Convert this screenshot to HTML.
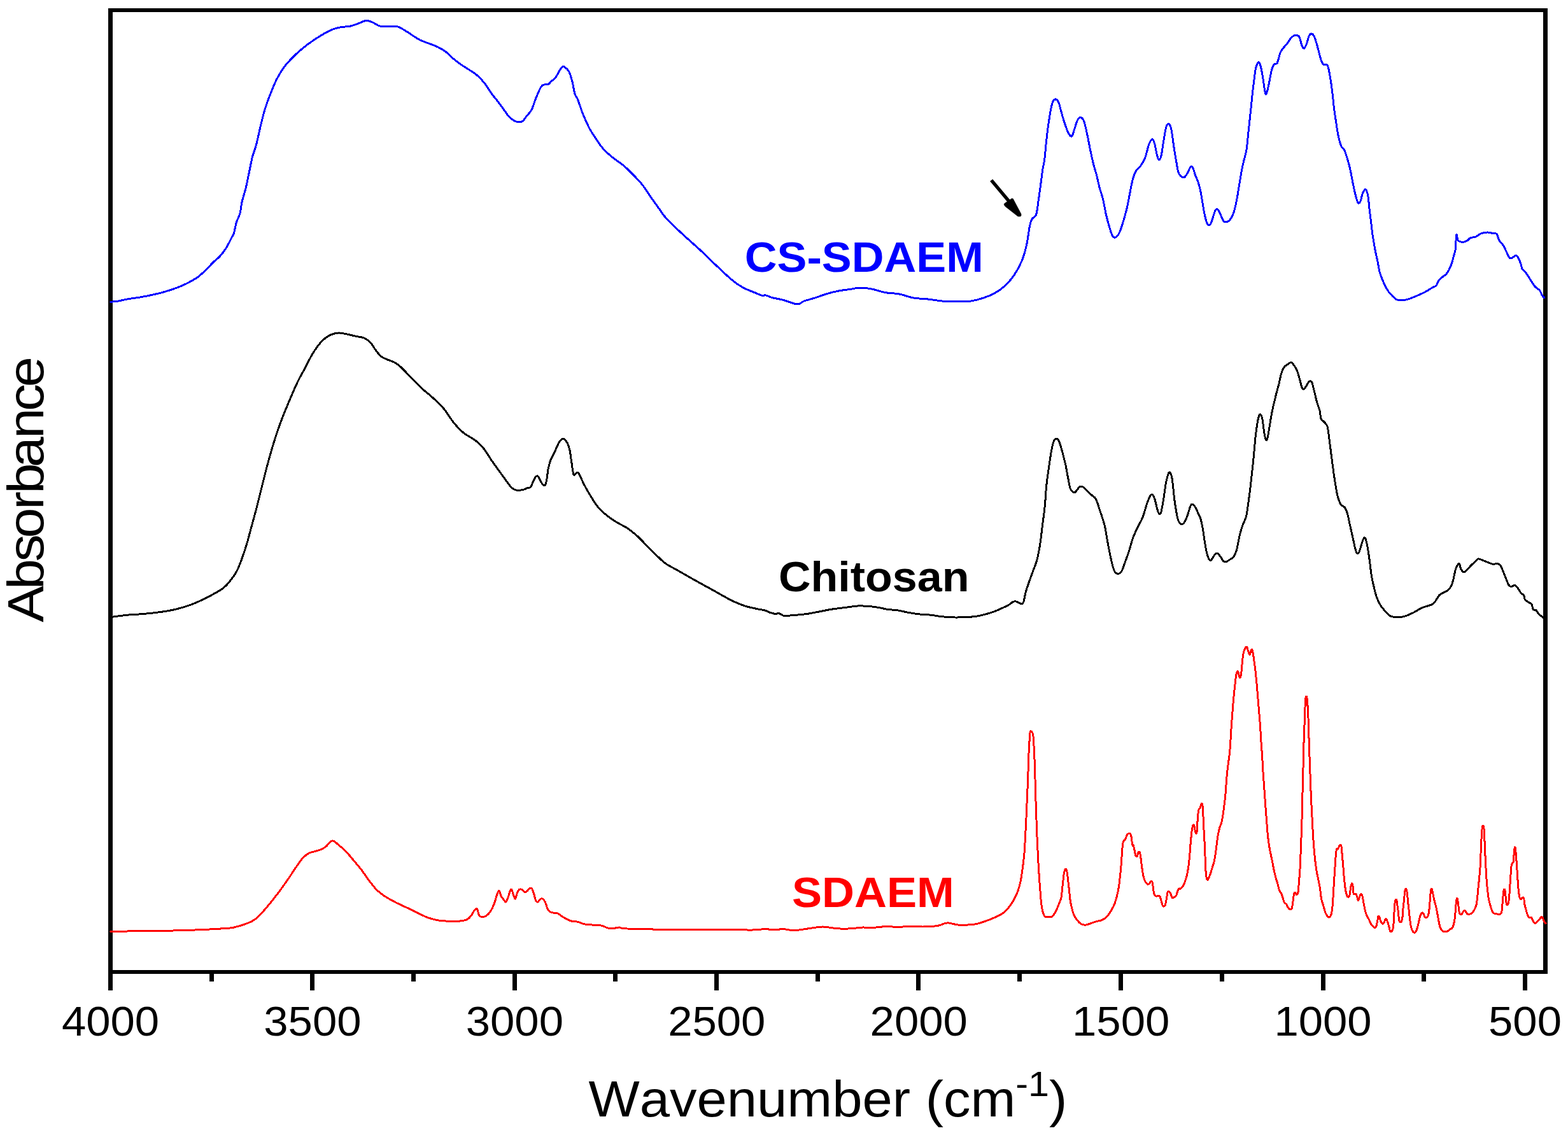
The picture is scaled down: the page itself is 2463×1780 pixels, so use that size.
<!DOCTYPE html>
<html lang="en">
<head>
<meta charset="utf-8">
<title>FTIR spectra: CS-SDAEM, Chitosan, SDAEM</title>
<style>
html,body{margin:0;padding:0;background:#fff;}
body{width:2463px;height:1780px;overflow:hidden;}
svg{display:block;}
text{font-family:"Liberation Sans",Arial,Helvetica,sans-serif;font-kerning:none;}
.b{font-weight:bold;}
.c{fill:none;stroke-linejoin:round;stroke-linecap:round;}
</style>
</head>
<body>
<svg width="2463" height="1780" viewBox="0 0 2463 1780">
<rect x="0" y="0" width="2463" height="1780" fill="#fff"/>
<g fill="#000" shape-rendering="crispEdges">
<rect x="170" y="13" width="7" height="1543"/>
<rect x="2424" y="13" width="7" height="1517"/>
<rect x="170" y="13" width="2261" height="6"/>
<rect x="170" y="1524" width="2261" height="6"/>
<rect x="487" y="1529" width="7" height="27"/>
<rect x="805" y="1529" width="7" height="27"/>
<rect x="1122" y="1529" width="7" height="27"/>
<rect x="1439" y="1529" width="7" height="27"/>
<rect x="1757" y="1529" width="7" height="27"/>
<rect x="2075" y="1529" width="7" height="27"/>
<rect x="2392" y="1529" width="7" height="27"/>
<rect x="329" y="1529" width="7" height="13"/>
<rect x="646" y="1529" width="7" height="13"/>
<rect x="963" y="1529" width="7" height="13"/>
<rect x="1281" y="1529" width="7" height="13"/>
<rect x="1598" y="1529" width="7" height="13"/>
<rect x="1916" y="1529" width="7" height="13"/>
<rect x="2233" y="1529" width="7" height="13"/>
</g>
<g class="c" shape-rendering="crispEdges" stroke-width="3.0">
<path stroke="#0000ff" d="M173.8,474.2C175.6,474.1 180.6,474.0 185.0,473.2C189.4,472.5 194.2,471.0 200.0,470.0C205.8,469.0 212.9,468.2 220.0,467.0C227.1,465.8 235.8,464.0 242.5,462.5C249.2,461.0 253.8,459.9 260.0,458.0C266.2,456.1 274.2,453.5 280.0,451.2C285.8,449.0 290.0,447.1 295.0,444.5C300.0,441.9 305.4,439.0 310.0,435.8C314.6,432.5 318.3,429.0 322.5,425.0C326.7,421.0 331.2,415.7 335.0,412.0C338.8,408.3 341.7,406.7 345.0,403.0C348.3,399.3 351.7,395.3 355.0,390.0C358.3,384.7 362.9,375.2 365.0,371.2C367.1,367.3 366.5,369.8 367.5,366.2C368.5,362.7 369.7,355.2 371.2,350.0C372.8,344.8 375.5,340.4 377.0,335.0C378.5,329.6 378.5,324.2 380.0,317.5C381.5,310.8 384.5,302.1 386.2,295.0C388.0,287.9 388.8,282.9 390.5,275.0C392.2,267.1 394.2,255.4 396.2,247.5C398.2,239.6 400.2,236.2 402.5,227.5C404.8,218.8 407.7,204.4 410.0,195.0C412.3,185.6 414.0,178.8 416.2,171.2C418.5,163.8 420.6,157.9 423.8,150.0C426.9,142.1 431.0,131.5 435.0,123.8C439.0,116.0 442.9,109.8 447.5,103.8C452.1,97.7 457.5,92.4 462.5,87.5C467.5,82.6 472.9,78.0 477.5,74.2C482.1,70.5 485.0,68.4 490.0,65.0C495.0,61.6 502.1,56.9 507.5,53.8C512.9,50.6 517.7,48.1 522.5,46.2C527.3,44.4 531.7,43.3 536.2,42.5C540.8,41.7 545.6,42.2 550.0,41.2C554.4,40.3 558.3,38.5 562.5,37.0C566.7,35.5 571.2,32.8 575.0,32.5C578.8,32.2 581.7,33.7 585.0,35.0C588.3,36.3 591.9,39.3 595.0,40.5C598.1,41.7 600.8,41.9 603.8,42.0C606.7,42.1 609.0,41.2 612.5,41.2C616.0,41.2 620.8,40.8 625.0,42.0C629.2,43.2 633.3,46.2 637.5,48.8C641.7,51.2 646.2,54.6 650.0,57.0C653.8,59.4 655.8,61.0 660.0,63.0C664.2,65.0 670.4,67.0 675.0,68.8C679.6,70.5 683.3,71.7 687.5,73.8C691.7,75.8 695.8,78.1 700.0,81.2C704.2,84.4 708.3,89.0 712.5,92.5C716.7,96.0 720.8,99.1 725.0,102.0C729.2,104.9 733.3,107.2 737.5,110.0C741.7,112.8 745.8,115.0 750.0,118.8C754.2,122.5 758.8,127.7 762.5,132.5C766.2,137.3 769.2,142.9 772.5,147.5C775.8,152.1 779.2,155.6 782.5,160.0C785.8,164.4 789.6,169.8 792.5,173.8C795.4,177.7 797.5,181.1 800.0,183.8C802.5,186.4 805.0,188.1 807.5,189.5C810.0,190.9 812.7,191.9 815.0,192.0C817.3,192.1 819.2,191.7 821.2,190.0C823.3,188.3 825.2,184.9 827.5,182.0C829.8,179.1 832.5,177.4 835.0,172.5C837.5,167.6 840.0,158.5 842.5,152.5C845.0,146.5 847.9,139.5 850.0,136.2C852.1,133.0 853.1,133.6 855.0,133.0C856.9,132.4 859.4,133.4 861.2,132.5C863.1,131.6 864.4,129.2 866.2,127.5C868.1,125.8 870.4,124.7 872.5,122.0C874.6,119.3 876.9,114.1 878.8,111.2C880.6,108.4 882.3,105.9 883.8,105.0C885.2,104.1 885.8,104.5 887.5,105.8C889.2,107.0 891.9,108.9 893.8,112.5C895.6,116.1 897.2,121.7 898.8,127.5C900.3,133.3 901.5,142.7 903.0,147.5C904.5,152.3 905.5,151.2 907.5,156.2C909.5,161.2 912.1,170.2 915.0,177.5C917.9,184.8 921.7,193.5 925.0,200.0C928.3,206.5 931.2,210.6 935.0,216.2C938.8,221.9 942.9,228.5 947.5,233.8C952.1,239.0 957.1,243.0 962.5,247.5C967.9,252.0 974.6,255.9 980.0,260.5C985.4,265.1 990.2,270.1 995.0,275.0C999.8,279.9 1004.2,284.2 1008.8,290.0C1013.3,295.8 1018.1,303.8 1022.5,310.0C1026.9,316.2 1031.2,322.3 1035.0,327.5C1038.8,332.7 1040.4,336.0 1045.0,341.2C1049.6,346.5 1056.7,353.1 1062.5,358.8C1068.3,364.4 1073.8,369.3 1080.0,375.0C1086.2,380.7 1092.5,386.0 1100.0,393.0C1107.5,400.0 1116.7,409.2 1125.0,417.0C1133.3,424.8 1142.9,434.2 1150.0,440.0C1157.1,445.8 1161.7,448.8 1167.5,452.0C1173.3,455.2 1180.0,457.4 1185.0,459.5C1190.0,461.6 1194.6,463.8 1197.5,464.5C1200.4,465.2 1200.0,463.2 1202.5,463.8C1205.0,464.2 1207.9,466.2 1212.5,467.5C1217.1,468.8 1223.3,469.5 1230.0,471.2C1236.7,473.0 1247.1,477.7 1252.5,478.0C1257.9,478.3 1257.9,474.9 1262.5,473.2C1267.1,471.6 1273.8,470.0 1280.0,468.0C1286.2,466.0 1293.8,463.1 1300.0,461.2C1306.2,459.4 1311.7,458.1 1317.5,457.0C1323.3,455.9 1329.4,455.3 1335.0,454.5C1340.6,453.7 1345.4,452.0 1351.2,452.0C1357.1,452.0 1363.5,453.0 1370.0,454.2C1376.5,455.5 1382.9,458.2 1390.0,459.5C1397.1,460.8 1405.0,460.6 1412.5,462.0C1420.0,463.4 1427.5,466.7 1435.0,468.0C1442.5,469.3 1450.0,469.2 1457.5,470.0C1465.0,470.8 1472.1,472.3 1480.0,473.0C1487.9,473.7 1497.5,474.0 1505.0,474.0C1512.5,474.0 1518.3,474.0 1525.0,473.0C1531.7,472.0 1538.8,470.1 1545.0,468.0C1551.2,465.9 1557.1,463.5 1562.5,460.5C1567.9,457.5 1572.5,454.6 1577.5,450.0C1582.5,445.4 1587.9,439.7 1592.5,433.0C1597.1,426.3 1601.7,418.0 1605.0,410.0C1608.3,402.0 1610.4,394.2 1612.5,385.0C1614.6,375.8 1616.0,361.9 1617.5,355.0C1619.0,348.1 1619.6,346.7 1621.2,343.8C1622.9,340.8 1625.8,342.3 1627.5,337.5C1629.2,332.7 1630.0,323.3 1631.2,315.0C1632.5,306.7 1633.9,295.8 1635.0,287.5C1636.1,279.2 1637.0,271.2 1638.0,265.0C1639.0,258.8 1639.8,257.5 1640.8,250.0C1641.7,242.5 1642.8,228.3 1643.8,220.0C1644.7,211.7 1645.2,207.5 1646.2,200.0C1647.3,192.5 1648.8,181.7 1650.0,175.0C1651.2,168.3 1652.4,163.2 1653.8,160.0C1655.1,156.8 1656.5,155.8 1658.0,155.8C1659.5,155.8 1661.1,157.2 1662.5,160.0C1663.9,162.8 1665.0,168.1 1666.2,172.5C1667.5,176.9 1668.5,181.5 1670.0,186.2C1671.5,191.0 1673.4,197.1 1675.0,201.2C1676.6,205.4 1678.0,209.2 1679.5,211.2C1681.0,213.3 1682.4,215.0 1683.8,213.8C1685.1,212.5 1686.0,207.9 1687.5,203.8C1689.0,199.6 1690.8,192.0 1692.5,188.8C1694.2,185.5 1695.8,184.3 1697.5,184.5C1699.2,184.7 1700.8,185.8 1702.5,190.0C1704.2,194.2 1705.8,202.5 1707.5,210.0C1709.2,217.5 1710.8,227.1 1712.5,235.0C1714.2,242.9 1715.8,250.8 1717.5,257.5C1719.2,264.2 1720.8,268.5 1722.5,275.0C1724.2,281.5 1725.8,290.0 1727.5,296.2C1729.2,302.5 1730.8,305.6 1732.5,312.5C1734.2,319.4 1735.8,330.2 1737.5,337.5C1739.2,344.8 1740.9,350.9 1742.5,356.2C1744.1,361.6 1745.5,366.7 1747.0,369.5C1748.5,372.3 1749.9,373.8 1751.8,373.2C1753.6,372.7 1756.0,370.1 1758.0,366.2C1760.0,362.4 1761.8,356.5 1763.8,350.0C1765.8,343.5 1768.1,335.4 1770.0,327.5C1771.9,319.6 1773.4,310.2 1775.0,302.5C1776.6,294.8 1777.8,287.1 1779.5,281.2C1781.2,275.4 1783.0,270.8 1785.0,267.5C1787.0,264.2 1789.0,264.6 1791.2,261.2C1793.5,257.9 1796.5,253.3 1798.8,247.5C1801.0,241.7 1803.1,231.0 1805.0,226.2C1806.9,221.5 1808.5,218.8 1810.0,218.8C1811.5,218.8 1812.5,222.1 1813.8,226.2C1815.0,230.4 1816.3,239.6 1817.5,243.8C1818.7,247.9 1819.6,251.2 1820.8,251.2C1821.9,251.2 1823.0,249.0 1824.2,243.8C1825.5,238.5 1826.7,227.5 1828.0,220.0C1829.3,212.5 1830.6,202.9 1832.0,198.8C1833.4,194.6 1834.9,194.2 1836.2,195.0C1837.6,195.8 1838.8,197.9 1840.0,203.8C1841.2,209.6 1842.5,221.9 1843.8,230.0C1845.0,238.1 1846.3,245.8 1847.5,252.5C1848.7,259.2 1849.5,265.9 1850.8,270.0C1852.0,274.1 1853.5,275.5 1855.0,277.0C1856.5,278.5 1858.3,279.5 1860.0,278.8C1861.7,278.0 1863.3,275.2 1865.0,272.5C1866.7,269.8 1868.5,264.0 1870.0,262.5C1871.5,261.0 1872.5,261.7 1873.8,263.8C1875.0,265.8 1876.0,271.0 1877.5,275.0C1879.0,279.0 1881.0,282.9 1882.5,287.5C1884.0,292.1 1885.0,296.2 1886.2,302.5C1887.5,308.8 1888.8,318.1 1890.0,325.0C1891.2,331.9 1892.5,339.1 1893.8,343.8C1895.0,348.4 1896.2,351.5 1897.5,353.0C1898.8,354.5 1900.0,354.2 1901.2,352.5C1902.5,350.8 1903.8,346.0 1905.0,342.5C1906.2,339.0 1907.5,333.5 1908.8,331.2C1910.0,329.0 1911.2,328.1 1912.5,328.8C1913.8,329.4 1914.8,332.1 1916.2,335.0C1917.7,337.9 1919.8,344.0 1921.2,346.2C1922.7,348.5 1923.3,348.8 1925.0,348.8C1926.7,348.8 1929.2,348.5 1931.2,346.2C1933.3,344.0 1935.6,340.2 1937.5,335.0C1939.4,329.8 1941.0,322.1 1942.5,315.0C1944.0,307.9 1945.0,300.0 1946.2,292.5C1947.5,285.0 1948.8,276.7 1950.0,270.0C1951.2,263.3 1952.4,258.3 1953.8,252.5C1955.1,246.7 1956.8,242.9 1958.0,235.0C1959.2,227.1 1960.2,215.0 1961.2,205.0C1962.3,195.0 1963.5,184.2 1964.5,175.0C1965.5,165.8 1966.1,158.3 1967.0,150.0C1967.9,141.7 1969.1,132.1 1970.0,125.0C1970.9,117.9 1971.7,111.7 1972.5,107.5C1973.3,103.3 1974.2,101.5 1975.0,100.0C1975.8,98.5 1976.6,97.4 1977.5,98.2C1978.4,99.1 1979.5,101.0 1980.5,105.0C1981.5,109.0 1982.7,116.2 1983.8,122.5C1984.8,128.8 1985.8,138.3 1986.8,142.5C1987.7,146.7 1988.2,149.2 1989.2,147.5C1990.3,145.8 1991.6,138.8 1993.0,132.5C1994.4,126.2 1996.1,115.2 1997.5,110.0C1998.9,104.8 1999.8,103.1 2001.2,101.2C2002.7,99.4 2004.6,101.9 2006.2,98.8C2007.9,95.6 2009.6,86.5 2011.2,82.5C2012.9,78.5 2014.4,77.5 2016.2,75.0C2018.1,72.5 2020.4,70.2 2022.5,67.5C2024.6,64.8 2026.5,60.8 2028.8,58.8C2031.0,56.7 2034.2,55.0 2036.2,55.0C2038.3,55.0 2039.9,56.2 2041.2,58.8C2042.6,61.2 2043.3,67.1 2044.5,70.0C2045.7,72.9 2046.9,76.5 2048.2,76.2C2049.6,76.0 2051.2,71.9 2052.5,68.8C2053.8,65.6 2054.6,60.1 2055.8,57.5C2056.9,54.9 2058.2,53.2 2059.5,53.0C2060.8,52.8 2062.4,54.0 2063.8,56.2C2065.1,58.5 2066.2,62.3 2067.5,66.2C2068.8,70.2 2070.0,75.4 2071.2,80.0C2072.5,84.6 2073.8,90.2 2075.0,93.8C2076.2,97.3 2077.1,99.8 2078.8,101.2C2080.4,102.7 2083.3,99.8 2085.0,102.5C2086.7,105.2 2087.5,110.8 2088.8,117.5C2090.0,124.2 2091.4,133.8 2092.5,142.5C2093.6,151.2 2094.5,161.7 2095.5,170.0C2096.5,178.3 2097.6,185.0 2098.8,192.5C2099.9,200.0 2101.1,208.8 2102.5,215.0C2103.9,221.2 2105.5,226.7 2107.0,230.0C2108.5,233.3 2109.7,231.9 2111.2,235.0C2112.8,238.1 2114.6,243.3 2116.2,248.8C2117.9,254.2 2119.8,261.0 2121.2,267.5C2122.7,274.0 2123.6,280.8 2125.0,287.5C2126.4,294.2 2128.1,302.3 2129.5,307.5C2130.9,312.7 2132.0,317.3 2133.2,318.8C2134.5,320.2 2135.9,318.5 2137.0,316.2C2138.1,314.0 2138.7,308.1 2140.0,305.0C2141.3,301.9 2143.5,297.1 2145.0,297.5C2146.5,297.9 2147.7,302.1 2148.8,307.5C2149.8,312.9 2150.4,322.9 2151.2,330.0C2152.1,337.1 2152.9,343.3 2153.8,350.0C2154.6,356.7 2155.2,362.9 2156.2,370.0C2157.3,377.1 2158.8,385.9 2160.0,392.5C2161.2,399.1 2162.5,403.9 2163.8,409.8C2165.0,415.6 2165.8,422.2 2167.2,427.5C2168.7,432.8 2170.2,436.5 2172.2,441.2C2174.3,446.0 2177.5,452.5 2179.8,456.2C2182.0,460.0 2183.7,461.4 2186.0,463.8C2188.3,466.1 2190.6,469.2 2193.5,470.5C2196.4,471.8 2200.2,471.9 2203.5,471.8C2206.8,471.6 2209.8,470.7 2213.5,469.5C2217.2,468.3 2221.8,466.3 2226.0,464.5C2230.2,462.7 2234.3,461.0 2238.5,458.8C2242.7,456.5 2248.1,452.9 2251.0,451.2C2253.9,449.6 2254.5,450.4 2256.0,448.8C2257.5,447.1 2258.1,443.5 2259.8,441.2C2261.4,439.0 2263.9,436.9 2266.0,435.0C2268.1,433.1 2270.2,432.7 2272.2,430.0C2274.3,427.3 2276.6,423.3 2278.5,418.8C2280.4,414.2 2282.2,407.3 2283.5,402.5C2284.8,397.7 2285.9,395.0 2286.5,390.0C2287.1,385.0 2286.9,376.0 2287.2,372.5C2287.6,369.0 2288.1,367.9 2288.5,368.8C2288.9,369.6 2288.9,375.7 2289.8,377.5C2290.6,379.3 2292.0,379.0 2293.5,379.5C2295.0,380.0 2296.6,380.8 2298.5,380.5C2300.4,380.2 2302.9,379.1 2304.8,378.0C2306.6,376.9 2307.5,374.8 2309.8,373.8C2312.0,372.7 2315.8,372.9 2318.5,371.8C2321.2,370.6 2323.1,368.1 2326.0,367.0C2328.9,365.9 2333.1,365.1 2336.0,365.0C2338.9,364.9 2341.0,365.8 2343.5,366.2C2346.0,366.7 2349.1,365.6 2351.0,367.5C2352.9,369.4 2353.1,374.6 2354.8,377.5C2356.4,380.4 2359.1,382.1 2361.0,385.0C2362.9,387.9 2364.3,391.7 2366.0,395.0C2367.7,398.3 2369.5,403.2 2371.0,405.0C2372.5,406.8 2373.1,406.1 2374.8,405.5C2376.4,404.9 2379.3,401.3 2381.0,401.2C2382.7,401.2 2383.4,402.7 2384.8,405.0C2386.1,407.3 2388.0,412.1 2389.0,415.0C2390.0,417.9 2389.8,420.4 2391.0,422.5C2392.2,424.6 2393.9,424.8 2396.0,427.5C2398.1,430.2 2401.0,435.0 2403.5,438.8C2406.0,442.5 2408.5,447.1 2411.0,450.0C2413.5,452.9 2416.6,454.0 2418.5,456.2C2420.4,458.5 2421.1,461.9 2422.2,463.8C2423.4,465.6 2425.0,466.9 2425.5,467.5"/>
<path stroke="#000000" d="M173.8,969.5C178.1,969.0 191.5,967.1 200.0,966.2C208.5,965.4 216.7,965.2 225.0,964.5C233.3,963.8 241.7,962.9 250.0,961.8C258.3,960.6 266.7,959.5 275.0,957.5C283.3,955.5 291.7,953.1 300.0,950.0C308.3,946.9 316.7,943.0 325.0,938.8C333.3,934.5 343.8,929.1 350.0,924.5C356.2,919.9 358.8,916.0 362.5,911.2C366.2,906.5 369.6,901.9 372.5,896.2C375.4,890.6 377.5,884.4 380.0,877.5C382.5,870.6 385.0,863.3 387.5,855.0C390.0,846.7 392.5,836.7 395.0,827.5C397.5,818.3 400.0,809.6 402.5,800.0C405.0,790.4 407.5,780.0 410.0,770.0C412.5,760.0 415.0,749.6 417.5,740.0C420.0,730.4 422.1,722.5 425.0,712.5C427.9,702.5 431.7,690.0 435.0,680.0C438.3,670.0 441.2,662.1 445.0,652.5C448.8,642.9 453.8,631.2 457.5,622.5C461.2,613.8 464.2,606.9 467.5,600.0C470.8,593.1 473.8,588.3 477.5,581.2C481.2,574.2 486.2,564.0 490.0,557.5C493.8,551.0 496.7,546.8 500.0,542.5C503.3,538.2 506.7,534.8 510.0,532.0C513.3,529.2 516.2,527.2 520.0,525.8C523.8,524.2 528.3,523.1 532.5,523.0C536.7,522.9 540.4,524.1 545.0,525.0C549.6,525.9 555.4,527.5 560.0,528.5C564.6,529.5 568.8,529.5 572.5,531.2C576.2,533.0 579.6,535.6 582.5,538.8C585.4,541.9 587.3,546.5 590.0,550.0C592.7,553.5 595.8,557.6 598.8,560.0C601.7,562.4 604.0,562.9 607.5,564.5C611.0,566.1 616.2,567.4 620.0,569.5C623.8,571.6 625.8,573.2 630.0,577.0C634.2,580.8 639.6,587.0 645.0,592.5C650.4,598.0 656.7,604.6 662.5,610.0C668.3,615.4 674.2,619.6 680.0,625.0C685.8,630.4 692.1,636.0 697.5,642.5C702.9,649.0 707.5,657.6 712.5,663.8C717.5,669.9 721.7,674.7 727.5,679.5C733.3,684.3 742.1,688.2 747.5,692.5C752.9,696.8 755.8,699.8 760.0,705.0C764.2,710.2 768.3,717.7 772.5,723.8C776.7,729.8 781.2,736.0 785.0,741.2C788.8,746.5 791.9,750.8 795.0,755.0C798.1,759.2 801.0,763.8 803.8,766.2C806.5,768.8 808.3,769.5 811.2,770.0C814.2,770.5 818.5,770.0 821.2,769.5C824.0,769.0 825.4,767.8 827.5,767.0C829.6,766.2 832.1,766.8 833.8,765.0C835.4,763.2 836.2,758.8 837.5,756.2C838.8,753.7 840.0,750.9 841.2,749.5C842.5,748.1 843.8,747.1 845.0,748.0C846.2,748.9 847.5,752.8 848.8,755.0C850.0,757.2 851.2,760.1 852.5,761.2C853.8,762.4 855.2,763.2 856.2,762.0C857.3,760.8 857.9,758.0 858.8,753.8C859.6,749.5 860.2,741.5 861.2,736.2C862.3,731.0 863.3,726.9 865.0,722.5C866.7,718.1 869.2,714.4 871.2,710.0C873.3,705.6 875.6,699.6 877.5,696.2C879.4,692.9 881.0,691.1 882.5,690.0C884.0,688.9 884.8,688.5 886.2,689.5C887.7,690.5 889.8,693.2 891.2,696.2C892.7,699.2 893.9,702.3 895.0,707.5C896.1,712.7 897.0,721.2 898.0,727.5C899.0,733.8 899.8,742.1 900.8,745.0C901.7,747.9 902.7,745.5 903.8,745.0C904.8,744.5 905.9,741.8 907.0,742.0C908.1,742.2 908.8,743.0 910.5,746.2C912.2,749.5 914.7,755.8 917.5,761.2C920.3,766.7 923.8,772.7 927.5,778.8C931.2,784.8 935.4,792.1 940.0,797.5C944.6,802.9 950.0,807.3 955.0,811.2C960.0,815.2 965.0,818.2 970.0,821.2C975.0,824.3 980.0,826.2 985.0,829.5C990.0,832.8 995.0,836.8 1000.0,841.2C1005.0,845.7 1010.0,851.2 1015.0,856.2C1020.0,861.2 1025.0,866.5 1030.0,871.2C1035.0,876.0 1039.6,881.0 1045.0,885.0C1050.4,889.0 1056.7,891.7 1062.5,895.0C1068.3,898.3 1073.8,901.5 1080.0,905.0C1086.2,908.5 1092.5,912.1 1100.0,916.2C1107.5,920.4 1116.7,925.4 1125.0,930.0C1133.3,934.6 1142.5,940.1 1150.0,943.8C1157.5,947.4 1163.8,949.9 1170.0,952.0C1176.2,954.1 1182.1,955.0 1187.5,956.2C1192.9,957.5 1198.8,958.2 1202.5,959.2C1206.2,960.3 1207.3,961.6 1210.0,962.5C1212.7,963.4 1216.7,964.4 1218.8,964.5C1220.8,964.6 1221.0,963.1 1222.5,963.2C1224.0,963.4 1225.8,964.8 1227.5,965.5C1229.2,966.2 1228.8,967.4 1232.5,967.5C1236.2,967.6 1244.2,966.8 1250.0,966.2C1255.8,965.8 1261.2,965.4 1267.5,964.5C1273.8,963.6 1280.8,962.0 1287.5,960.8C1294.2,959.5 1300.8,958.0 1307.5,957.0C1314.2,956.0 1320.8,955.3 1327.5,954.5C1334.2,953.7 1341.2,952.3 1347.5,952.0C1353.8,951.7 1359.6,952.1 1365.0,952.5C1370.4,952.9 1375.0,953.7 1380.0,954.5C1385.0,955.3 1390.0,956.8 1395.0,957.5C1400.0,958.2 1404.6,957.9 1410.0,958.8C1415.4,959.6 1421.7,961.5 1427.5,962.5C1433.3,963.5 1439.2,964.4 1445.0,965.0C1450.8,965.6 1456.7,965.6 1462.5,966.2C1468.3,966.9 1473.8,968.1 1480.0,968.8C1486.2,969.4 1493.3,969.9 1500.0,970.0C1506.7,970.1 1514.2,969.8 1520.0,969.5C1525.8,969.2 1530.0,968.8 1535.0,968.0C1540.0,967.2 1545.4,965.8 1550.0,964.5C1554.6,963.2 1558.3,962.1 1562.5,960.5C1566.7,958.9 1571.2,956.8 1575.0,955.0C1578.8,953.2 1582.3,951.6 1585.0,950.0C1587.7,948.4 1589.4,946.3 1591.2,945.5C1593.1,944.7 1594.6,944.7 1596.2,945.0C1597.9,945.3 1599.8,946.9 1601.2,947.5C1602.7,948.1 1603.9,949.2 1605.0,948.8C1606.1,948.3 1607.0,948.1 1608.0,945.0C1609.0,941.9 1609.9,935.0 1611.2,930.0C1612.6,925.0 1614.4,920.4 1616.2,915.0C1618.1,909.6 1620.4,903.3 1622.5,897.5C1624.6,891.7 1626.9,887.1 1628.8,880.0C1630.6,872.9 1632.3,864.2 1633.8,855.0C1635.2,845.8 1636.2,835.0 1637.5,825.0C1638.8,815.0 1640.2,805.4 1641.2,795.0C1642.3,784.6 1642.7,772.5 1643.8,762.5C1644.8,752.5 1646.2,743.8 1647.5,735.0C1648.8,726.2 1650.0,716.9 1651.2,710.0C1652.5,703.1 1653.8,697.2 1655.0,693.8C1656.2,690.3 1657.5,689.9 1658.8,689.5C1660.0,689.1 1661.2,689.3 1662.5,691.2C1663.8,693.2 1665.0,697.3 1666.2,701.2C1667.5,705.2 1668.8,710.2 1670.0,715.0C1671.2,719.8 1672.5,724.2 1673.8,730.0C1675.0,735.8 1676.2,743.8 1677.5,750.0C1678.8,756.2 1680.0,763.8 1681.2,767.5C1682.5,771.2 1683.8,771.5 1685.0,772.5C1686.2,773.5 1687.5,773.9 1688.8,773.2C1690.0,772.6 1691.2,770.2 1692.5,768.8C1693.8,767.3 1694.8,765.1 1696.2,764.5C1697.7,763.9 1699.4,763.9 1701.2,765.0C1703.1,766.1 1705.2,769.1 1707.5,771.2C1709.8,773.4 1712.7,775.9 1715.0,778.0C1717.3,780.1 1719.4,780.5 1721.2,783.8C1723.1,787.0 1724.0,790.6 1726.2,797.5C1728.5,804.4 1732.7,815.8 1735.0,825.0C1737.3,834.2 1738.3,843.8 1740.0,852.5C1741.7,861.2 1743.5,870.8 1745.0,877.5C1746.5,884.2 1747.5,888.8 1748.8,892.5C1750.0,896.2 1750.8,898.6 1752.5,900.0C1754.2,901.4 1757.1,901.4 1758.8,900.8C1760.4,900.1 1761.0,899.3 1762.5,896.2C1764.0,893.2 1765.6,887.7 1767.5,882.5C1769.4,877.3 1771.9,870.8 1773.8,865.0C1775.6,859.2 1776.7,853.3 1778.8,847.5C1780.8,841.7 1783.5,835.8 1786.2,830.0C1789.0,824.2 1792.5,818.8 1795.0,812.5C1797.5,806.2 1799.4,797.9 1801.2,792.5C1803.1,787.1 1804.8,782.6 1806.2,780.0C1807.7,777.4 1808.8,776.4 1810.0,777.0C1811.2,777.6 1812.5,780.1 1813.8,783.8C1815.0,787.4 1816.4,794.9 1817.5,798.8C1818.6,802.6 1819.5,806.0 1820.5,807.0C1821.5,808.0 1822.6,808.7 1823.8,805.0C1824.9,801.3 1826.2,792.5 1827.5,785.0C1828.8,777.5 1830.0,766.7 1831.2,760.0C1832.5,753.3 1833.9,747.9 1835.0,745.0C1836.1,742.1 1837.0,741.2 1838.0,742.5C1839.0,743.8 1840.2,745.8 1841.2,752.5C1842.3,759.2 1843.5,774.2 1844.5,782.5C1845.5,790.8 1846.6,797.1 1847.5,802.5C1848.4,807.9 1849.0,811.7 1850.0,815.0C1851.0,818.3 1852.3,821.2 1853.8,822.5C1855.2,823.8 1857.1,824.0 1858.8,822.5C1860.4,821.0 1862.3,817.1 1863.8,813.8C1865.2,810.4 1866.4,805.8 1867.5,802.5C1868.6,799.2 1869.5,795.4 1870.5,793.8C1871.5,792.1 1872.4,791.7 1873.8,792.5C1875.1,793.3 1877.3,796.2 1878.8,798.8C1880.2,801.2 1881.2,804.6 1882.5,807.5C1883.8,810.4 1885.0,811.7 1886.2,816.2C1887.5,820.8 1888.8,827.7 1890.0,835.0C1891.2,842.3 1892.5,853.3 1893.8,860.0C1895.0,866.7 1896.2,871.6 1897.5,875.0C1898.8,878.4 1900.0,880.3 1901.2,880.5C1902.5,880.7 1903.8,877.9 1905.0,876.2C1906.2,874.6 1907.5,871.6 1908.8,870.5C1910.0,869.4 1911.0,868.8 1912.5,869.5C1914.0,870.2 1916.0,873.0 1917.5,875.0C1919.0,877.0 1919.9,879.9 1921.2,881.2C1922.6,882.6 1923.8,883.3 1925.5,883.0C1927.2,882.7 1929.2,880.8 1931.2,879.5C1933.2,878.2 1935.6,877.6 1937.5,875.0C1939.4,872.4 1940.8,869.6 1942.5,863.8C1944.2,857.9 1945.8,846.7 1947.5,840.0C1949.2,833.3 1950.8,828.5 1952.5,823.8C1954.2,819.0 1956.0,817.3 1957.5,811.2C1959.0,805.2 1960.0,796.5 1961.2,787.5C1962.5,778.5 1963.8,768.3 1965.0,757.5C1966.2,746.7 1967.6,734.2 1968.8,722.5C1969.9,710.8 1971.0,697.1 1972.0,687.5C1973.0,677.9 1974.1,670.6 1975.0,665.0C1975.9,659.4 1976.7,656.0 1977.5,653.8C1978.3,651.5 1979.1,650.4 1980.0,651.2C1980.9,652.1 1982.1,654.4 1983.0,658.8C1983.9,663.1 1984.7,672.3 1985.5,677.5C1986.3,682.7 1987.2,687.9 1988.0,690.0C1988.8,692.1 1989.5,692.9 1990.5,690.0C1991.5,687.1 1992.5,679.6 1993.8,672.5C1995.0,665.4 1996.3,655.8 1998.0,647.5C1999.7,639.2 2002.0,629.8 2003.8,622.5C2005.5,615.2 2007.3,609.6 2008.8,603.8C2010.2,597.9 2011.1,592.0 2012.5,587.5C2013.9,583.0 2015.3,579.5 2017.0,577.0C2018.7,574.5 2020.7,573.8 2022.5,572.5C2024.3,571.2 2026.3,569.3 2028.0,569.5C2029.7,569.7 2030.9,571.6 2032.5,573.8C2034.1,575.9 2035.9,578.5 2037.5,582.5C2039.1,586.5 2040.8,593.1 2042.0,597.5C2043.2,601.9 2044.0,606.5 2045.0,608.8C2046.0,611.0 2047.0,611.8 2048.2,611.2C2049.5,610.7 2051.2,607.5 2052.5,605.5C2053.8,603.5 2054.9,600.3 2056.2,599.5C2057.6,598.7 2059.1,597.9 2060.5,600.5C2061.9,603.1 2063.1,609.7 2064.5,615.0C2065.9,620.3 2067.3,627.5 2068.8,632.5C2070.2,637.5 2072.0,640.8 2073.0,645.0C2074.0,649.2 2073.8,654.5 2075.0,657.5C2076.2,660.5 2078.3,660.9 2080.0,663.0C2081.7,665.1 2083.7,665.5 2085.0,670.0C2086.3,674.5 2087.0,682.5 2088.0,690.0C2089.0,697.5 2090.2,706.7 2091.2,715.0C2092.3,723.3 2093.5,732.5 2094.5,740.0C2095.5,747.5 2096.4,753.3 2097.5,760.0C2098.6,766.7 2099.8,774.6 2101.2,780.0C2102.7,785.4 2104.4,789.6 2106.2,792.5C2108.1,795.4 2110.7,794.8 2112.5,797.5C2114.3,800.2 2115.7,804.2 2117.0,808.8C2118.3,813.3 2119.2,819.4 2120.5,825.0C2121.8,830.6 2123.2,836.9 2124.5,842.5C2125.8,848.1 2126.9,854.4 2128.0,858.8C2129.1,863.1 2130.2,867.2 2131.2,868.8C2132.3,870.3 2133.4,869.9 2134.5,868.0C2135.6,866.1 2136.9,860.9 2138.0,857.5C2139.1,854.1 2140.2,849.5 2141.2,847.5C2142.3,845.5 2143.4,843.6 2144.5,845.5C2145.6,847.4 2146.9,853.0 2148.0,858.8C2149.1,864.5 2150.2,872.3 2151.2,880.0C2152.3,887.7 2153.2,897.5 2154.5,905.0C2155.8,912.5 2157.5,919.6 2158.8,925.0C2160.0,930.4 2160.8,933.5 2162.2,937.5C2163.7,941.5 2165.4,945.4 2167.2,948.8C2169.1,952.1 2170.8,954.4 2173.5,957.5C2176.2,960.6 2179.5,965.4 2183.5,967.5C2187.5,969.6 2193.1,970.0 2197.2,970.0C2201.4,970.0 2204.5,968.8 2208.5,967.5C2212.5,966.2 2216.8,964.1 2221.0,962.0C2225.2,959.9 2228.9,957.0 2233.5,955.0C2238.1,953.0 2245.2,951.5 2248.5,950.0C2251.8,948.5 2251.4,948.8 2253.5,946.2C2255.6,943.8 2258.5,937.6 2261.0,935.0C2263.5,932.4 2266.2,931.8 2268.5,930.5C2270.8,929.2 2272.9,928.8 2274.8,927.0C2276.6,925.2 2278.4,922.8 2279.8,920.0C2281.1,917.2 2282.0,914.0 2283.0,910.0C2284.0,906.0 2285.0,899.8 2286.0,896.2C2287.0,892.7 2288.0,890.5 2289.0,888.8C2290.0,887.0 2291.3,884.7 2292.2,885.5C2293.2,886.3 2293.6,891.5 2294.8,893.8C2295.9,896.0 2297.5,898.3 2299.0,898.8C2300.5,899.2 2301.5,898.0 2303.5,896.2C2305.5,894.5 2308.7,890.3 2311.0,888.0C2313.3,885.7 2315.4,884.2 2317.2,882.5C2319.1,880.8 2320.4,878.4 2322.2,878.0C2324.1,877.6 2326.2,879.2 2328.5,880.0C2330.8,880.8 2333.3,882.0 2336.0,883.0C2338.7,884.0 2342.0,885.8 2344.8,886.2C2347.5,886.7 2350.2,885.1 2352.2,885.5C2354.3,885.9 2355.8,886.8 2357.2,888.8C2358.7,890.8 2359.5,894.0 2361.0,897.5C2362.5,901.0 2364.5,906.5 2366.0,910.0C2367.5,913.5 2368.4,916.8 2369.8,918.8C2371.1,920.7 2372.3,921.7 2374.0,921.8C2375.7,921.8 2378.0,918.7 2379.8,919.2C2381.5,919.8 2383.1,922.8 2384.8,925.0C2386.4,927.2 2388.3,930.8 2389.8,932.5C2391.2,934.2 2392.5,933.4 2393.5,935.0C2394.5,936.6 2394.2,940.1 2395.5,942.0C2396.8,943.9 2399.2,945.0 2401.0,946.2C2402.8,947.5 2404.8,947.6 2406.0,949.5C2407.2,951.4 2407.3,956.0 2408.5,957.5C2409.7,959.0 2411.5,957.5 2413.0,958.8C2414.5,960.0 2415.7,963.3 2417.2,965.0C2418.8,966.7 2420.9,967.7 2422.2,968.8C2423.6,969.8 2425.0,970.8 2425.5,971.2"/>
<path stroke="#ff0000" d="M173.8,1463.2C186.5,1463.1 226.9,1462.9 250.0,1462.5C273.1,1462.1 295.8,1461.4 312.5,1460.8C329.2,1460.1 340.8,1459.4 350.0,1458.8C359.2,1458.1 360.8,1458.5 367.5,1457.0C374.2,1455.5 384.2,1452.3 390.0,1450.0C395.8,1447.7 398.3,1446.3 402.5,1443.0C406.7,1439.7 410.8,1434.7 415.0,1430.0C419.2,1425.3 423.3,1420.2 427.5,1415.0C431.7,1409.8 435.8,1404.4 440.0,1398.8C444.2,1393.1 448.3,1387.3 452.5,1381.2C456.7,1375.2 461.2,1367.9 465.0,1362.5C468.8,1357.1 471.7,1352.4 475.0,1348.8C478.3,1345.1 481.7,1342.4 485.0,1340.5C488.3,1338.6 491.7,1338.5 495.0,1337.5C498.3,1336.5 502.1,1335.6 505.0,1334.2C507.9,1332.9 510.2,1331.5 512.5,1329.5C514.8,1327.5 516.9,1323.9 518.8,1322.5C520.6,1321.1 521.5,1320.3 523.8,1321.2C526.0,1322.2 529.2,1325.2 532.5,1328.0C535.8,1330.8 540.0,1334.1 543.8,1338.0C547.5,1341.9 551.0,1346.5 555.0,1351.2C559.0,1356.0 563.3,1360.8 567.5,1366.2C571.7,1371.7 576.2,1378.8 580.0,1383.8C583.8,1388.8 587.1,1393.0 590.0,1396.2C592.9,1399.5 594.6,1400.7 597.5,1403.0C600.4,1405.3 603.3,1407.5 607.5,1410.0C611.7,1412.5 616.2,1415.1 622.5,1418.2C628.8,1421.4 638.8,1425.8 645.0,1428.8C651.2,1431.8 655.4,1434.1 660.0,1436.2C664.6,1438.4 667.9,1440.2 672.5,1441.8C677.1,1443.3 682.9,1444.9 687.5,1445.8C692.1,1446.6 695.8,1446.7 700.0,1447.0C704.2,1447.3 708.3,1447.5 712.5,1447.5C716.7,1447.5 721.5,1447.2 725.0,1446.8C728.5,1446.2 731.2,1445.8 733.8,1444.5C736.2,1443.2 738.1,1441.1 740.0,1438.8C741.9,1436.4 743.5,1432.3 745.0,1430.5C746.5,1428.7 748.0,1426.8 749.2,1428.0C750.5,1429.2 751.2,1435.4 752.5,1437.5C753.8,1439.6 755.1,1440.5 757.0,1440.8C758.9,1441.0 761.6,1440.1 763.8,1438.8C765.9,1437.4 767.9,1435.6 770.0,1432.5C772.1,1429.4 774.6,1424.2 776.2,1420.0C777.9,1415.8 778.8,1411.0 780.0,1407.5C781.2,1404.0 782.6,1399.2 783.8,1399.2C784.9,1399.2 785.9,1405.3 787.0,1407.5C788.1,1409.7 789.2,1410.9 790.5,1412.5C791.8,1414.1 793.2,1417.4 794.5,1417.0C795.8,1416.6 796.9,1412.8 798.0,1410.0C799.1,1407.2 800.3,1402.1 801.2,1400.0C802.2,1397.9 802.8,1396.2 803.8,1397.5C804.7,1398.8 806.0,1405.1 807.0,1407.5C808.0,1409.9 808.6,1412.8 809.5,1412.0C810.4,1411.2 811.5,1404.9 812.5,1402.5C813.5,1400.1 814.2,1398.3 815.5,1397.5C816.8,1396.7 818.5,1396.8 820.0,1397.5C821.5,1398.2 822.9,1401.3 824.2,1401.8C825.6,1402.2 826.8,1400.9 828.0,1400.0C829.2,1399.1 830.0,1396.9 831.2,1396.2C832.5,1395.6 834.2,1394.8 835.5,1396.2C836.8,1397.7 837.7,1401.9 838.8,1405.0C839.8,1408.1 840.7,1413.0 841.8,1415.0C842.8,1417.0 843.8,1417.4 845.0,1417.0C846.2,1416.6 847.4,1413.2 848.8,1412.5C850.1,1411.8 851.6,1411.5 853.0,1412.5C854.4,1413.5 855.8,1416.2 857.0,1418.8C858.2,1421.2 858.9,1425.2 860.0,1427.5C861.1,1429.8 862.1,1431.4 863.8,1432.5C865.4,1433.6 867.9,1433.8 870.0,1434.2C872.1,1434.7 874.2,1434.1 876.2,1435.0C878.3,1435.9 880.2,1438.0 882.5,1439.5C884.8,1441.0 887.5,1442.5 890.0,1443.8C892.5,1445.0 894.6,1446.2 897.5,1447.0C900.4,1447.8 904.2,1447.5 907.5,1448.2C910.8,1449.0 913.8,1451.0 917.5,1451.8C921.2,1452.5 925.4,1452.6 930.0,1453.0C934.6,1453.4 940.8,1453.4 945.0,1454.2C949.2,1455.1 951.7,1457.3 955.0,1458.0C958.3,1458.7 962.1,1458.4 965.0,1458.2C967.9,1458.1 970.0,1456.9 972.5,1457.0C975.0,1457.1 973.8,1458.3 980.0,1458.8C986.2,1459.2 998.3,1459.2 1010.0,1459.5C1021.7,1459.8 1042.5,1460.7 1050.0,1460.8C1057.5,1460.8 1040.0,1460.0 1055.0,1460.0C1070.0,1460.0 1118.8,1460.3 1140.0,1460.5C1161.2,1460.7 1172.1,1461.2 1182.5,1461.0C1192.9,1460.8 1197.1,1459.5 1202.5,1459.5C1207.9,1459.5 1210.4,1461.0 1215.0,1461.0C1219.6,1461.0 1225.8,1459.5 1230.0,1459.5C1234.2,1459.5 1235.8,1460.8 1240.0,1461.0C1244.2,1461.2 1249.2,1461.5 1255.0,1461.0C1260.8,1460.5 1268.8,1458.8 1275.0,1458.0C1281.2,1457.2 1287.5,1456.1 1292.5,1456.0C1297.5,1455.9 1300.4,1457.0 1305.0,1457.5C1309.6,1458.0 1314.6,1458.8 1320.0,1459.0C1325.4,1459.2 1331.7,1459.1 1337.5,1458.8C1343.3,1458.4 1349.6,1457.2 1355.0,1457.0C1360.4,1456.8 1363.8,1457.8 1370.0,1457.5C1376.2,1457.2 1385.8,1455.7 1392.5,1455.5C1399.2,1455.3 1403.8,1456.5 1410.0,1456.5C1416.2,1456.5 1423.3,1455.3 1430.0,1455.2C1436.7,1455.2 1442.9,1456.1 1450.0,1456.0C1457.1,1455.9 1467.1,1455.3 1472.5,1454.5C1477.9,1453.7 1479.6,1452.0 1482.5,1451.2C1485.4,1450.5 1486.2,1449.7 1490.0,1450.0C1493.8,1450.3 1500.0,1452.5 1505.0,1453.0C1510.0,1453.5 1515.4,1453.2 1520.0,1453.0C1524.6,1452.8 1528.3,1452.5 1532.5,1451.8C1536.7,1451.0 1540.4,1449.8 1545.0,1448.2C1549.6,1446.7 1555.0,1444.7 1560.0,1442.5C1565.0,1440.3 1570.8,1437.9 1575.0,1435.0C1579.2,1432.1 1582.1,1428.5 1585.0,1425.0C1587.9,1421.5 1590.2,1417.9 1592.5,1413.8C1594.8,1409.6 1597.0,1404.8 1598.8,1400.0C1600.5,1395.2 1601.8,1390.8 1603.0,1385.0C1604.2,1379.2 1605.3,1372.1 1606.2,1365.0C1607.2,1357.9 1608.0,1350.8 1608.8,1342.5C1609.5,1334.2 1610.0,1324.6 1610.5,1315.0C1611.0,1305.4 1611.5,1296.7 1612.0,1285.0C1612.5,1273.3 1613.2,1257.1 1613.8,1245.0C1614.2,1232.9 1614.7,1221.7 1615.0,1212.5C1615.3,1203.3 1615.4,1197.5 1615.7,1189.8C1616.0,1182.1 1616.5,1172.9 1616.9,1166.3C1617.4,1159.7 1617.6,1152.8 1618.2,1150.0C1618.8,1147.3 1619.8,1148.8 1620.6,1149.7C1621.3,1150.6 1622.3,1151.2 1622.9,1155.5C1623.5,1159.7 1623.8,1168.7 1624.2,1175.4C1624.5,1182.0 1624.8,1187.1 1625.1,1195.2C1625.4,1203.4 1625.6,1210.9 1626.0,1224.2C1626.4,1237.5 1627.0,1259.0 1627.5,1275.0C1628.0,1291.0 1628.6,1305.8 1629.2,1320.0C1629.9,1334.2 1630.6,1348.3 1631.2,1360.0C1631.9,1371.7 1632.5,1380.4 1633.2,1390.0C1634.0,1399.6 1634.7,1410.4 1635.5,1417.5C1636.3,1424.6 1637.0,1428.8 1638.0,1432.5C1639.0,1436.2 1639.9,1438.6 1641.2,1440.0C1642.6,1441.4 1644.4,1440.8 1646.2,1440.8C1648.1,1440.8 1650.4,1441.6 1652.5,1440.0C1654.6,1438.4 1656.9,1434.8 1658.8,1431.2C1660.6,1427.7 1662.4,1422.3 1663.8,1418.8C1665.1,1415.2 1666.1,1414.8 1667.0,1410.0C1667.9,1405.2 1668.5,1396.2 1669.2,1390.0C1670.0,1383.8 1670.5,1376.7 1671.2,1372.5C1672.0,1368.3 1672.9,1365.2 1673.8,1365.0C1674.6,1364.8 1675.4,1366.7 1676.2,1371.2C1677.1,1375.8 1677.9,1385.2 1678.8,1392.5C1679.6,1399.8 1680.4,1409.2 1681.2,1415.0C1682.1,1420.8 1682.7,1423.5 1683.8,1427.5C1684.8,1431.5 1686.0,1435.6 1687.5,1438.8C1689.0,1441.9 1690.6,1444.0 1692.5,1446.2C1694.4,1448.5 1696.5,1450.9 1698.8,1452.0C1701.0,1453.1 1703.5,1453.3 1706.2,1453.0C1709.0,1452.7 1712.3,1450.9 1715.0,1450.0C1717.7,1449.1 1720.0,1448.2 1722.5,1447.5C1725.0,1446.8 1727.5,1446.8 1730.0,1445.8C1732.5,1444.7 1735.0,1443.7 1737.5,1441.2C1740.0,1438.8 1742.7,1435.0 1745.0,1431.2C1747.3,1427.5 1749.4,1424.0 1751.2,1418.8C1753.1,1413.5 1755.0,1406.0 1756.2,1400.0C1757.5,1394.0 1757.9,1389.6 1758.8,1382.5C1759.6,1375.4 1760.4,1367.1 1761.2,1357.5C1762.1,1347.9 1762.7,1331.5 1763.8,1325.0C1764.8,1318.5 1766.2,1321.2 1767.5,1318.8C1768.8,1316.3 1769.8,1311.8 1771.2,1310.5C1772.7,1309.2 1775.0,1308.4 1776.2,1311.2C1777.5,1314.1 1778.1,1324.8 1778.8,1327.5C1779.4,1330.2 1779.4,1325.7 1780.0,1327.2C1780.6,1328.6 1781.5,1333.3 1782.2,1336.2C1782.8,1339.1 1783.3,1342.9 1784.0,1344.3C1784.7,1345.8 1785.6,1345.8 1786.3,1344.9C1787.0,1344.0 1787.4,1339.8 1788.1,1338.9C1788.8,1338.0 1789.8,1337.5 1790.5,1339.5C1791.2,1341.4 1791.7,1346.4 1792.3,1350.7C1792.9,1354.9 1793.4,1360.6 1794.1,1365.1C1794.8,1369.6 1795.5,1374.5 1796.3,1377.8C1797.1,1381.1 1797.9,1383.1 1799.0,1385.0C1800.0,1386.9 1801.5,1388.4 1802.6,1389.0C1803.7,1389.5 1804.4,1389.0 1805.3,1388.3C1806.2,1387.5 1807.2,1384.7 1808.0,1384.5C1808.9,1384.2 1809.8,1384.6 1810.4,1386.8C1811.0,1389.0 1811.1,1394.5 1811.6,1397.7C1812.1,1400.8 1812.7,1404.1 1813.4,1405.8C1814.2,1407.5 1814.9,1407.8 1816.2,1408.1C1817.5,1408.4 1820.0,1406.6 1821.2,1407.6C1822.5,1408.6 1822.9,1411.5 1823.7,1413.9C1824.6,1416.3 1825.4,1420.4 1826.1,1422.1C1826.8,1423.8 1827.2,1424.2 1827.9,1424.2C1828.6,1424.2 1829.5,1424.1 1830.3,1422.1C1831.0,1420.0 1831.8,1415.4 1832.4,1412.1C1833.0,1408.8 1833.3,1404.1 1833.9,1402.2C1834.5,1400.2 1835.2,1400.1 1836.0,1400.4C1836.9,1400.7 1837.9,1402.3 1838.8,1404.0C1839.6,1405.6 1840.3,1409.3 1841.1,1410.3C1841.9,1411.4 1842.2,1411.0 1843.3,1410.3C1844.4,1409.7 1846.7,1408.0 1847.8,1406.3C1848.8,1404.7 1848.9,1402.1 1849.6,1400.4C1850.3,1398.7 1850.9,1397.0 1851.8,1396.2C1852.7,1395.5 1853.9,1396.7 1855.0,1395.9C1856.2,1395.0 1857.5,1393.3 1858.6,1391.3C1859.8,1389.4 1860.7,1387.0 1861.7,1384.1C1862.7,1381.2 1863.8,1377.9 1864.6,1374.2C1865.4,1370.4 1866.1,1366.3 1866.8,1361.5C1867.4,1356.7 1868.1,1350.7 1868.6,1345.2C1869.1,1339.8 1869.4,1334.4 1869.8,1329.0C1870.3,1323.5 1870.8,1317.2 1871.3,1312.7C1871.7,1308.2 1872.1,1304.6 1872.6,1301.9C1873.0,1299.1 1873.5,1297.2 1874.0,1296.4C1874.5,1295.7 1875.3,1295.8 1875.8,1297.3C1876.4,1298.8 1876.7,1303.4 1877.3,1305.5C1877.8,1307.6 1878.4,1310.0 1878.9,1310.0C1879.4,1310.0 1879.9,1309.2 1880.3,1305.5C1880.7,1301.7 1880.8,1292.8 1881.2,1287.4C1881.6,1282.0 1882.0,1275.9 1882.7,1272.9C1883.3,1269.9 1884.5,1271.0 1885.2,1269.3C1885.9,1267.7 1886.4,1263.7 1887.0,1263.0C1887.6,1262.2 1888.3,1261.9 1888.8,1264.8C1889.3,1267.7 1889.6,1274.3 1889.9,1280.2C1890.2,1286.0 1890.5,1292.8 1890.8,1300.0C1891.2,1307.3 1891.7,1316.0 1892.1,1323.5C1892.4,1331.1 1892.7,1338.0 1893.0,1345.2C1893.3,1352.5 1893.5,1361.2 1893.9,1366.9C1894.3,1372.7 1894.8,1377.0 1895.3,1379.6C1895.9,1382.1 1896.5,1382.6 1897.1,1382.3C1897.8,1382.0 1898.5,1379.7 1899.3,1377.8C1900.1,1375.8 1901.1,1373.3 1902.0,1370.5C1902.9,1367.8 1903.8,1364.5 1904.7,1361.5C1905.6,1358.5 1906.6,1356.4 1907.4,1352.5C1908.3,1348.6 1909.1,1342.8 1909.8,1338.0C1910.5,1333.2 1911.0,1328.1 1911.6,1323.5C1912.2,1319.0 1912.7,1314.8 1913.4,1310.9C1914.1,1307.0 1915.0,1303.2 1915.9,1300.0C1916.8,1296.9 1918.0,1295.2 1918.8,1291.9C1919.7,1288.6 1920.3,1284.8 1921.0,1280.2C1921.7,1275.5 1922.5,1269.3 1923.2,1263.9C1923.8,1258.5 1924.4,1253.6 1925.0,1247.6C1925.5,1241.6 1925.9,1233.8 1926.4,1227.7C1926.9,1221.7 1927.3,1216.6 1927.9,1211.5C1928.4,1206.3 1929.1,1201.8 1929.7,1197.0C1930.3,1192.2 1931.0,1187.7 1931.5,1182.5C1932.0,1177.4 1932.4,1171.7 1932.8,1166.3C1933.1,1160.8 1933.4,1153.9 1933.7,1150.0C1933.9,1146.1 1933.9,1146.9 1934.2,1142.7C1934.5,1138.5 1935.0,1130.6 1935.5,1124.6C1936.0,1118.6 1936.5,1112.0 1936.9,1106.5C1937.4,1101.1 1937.8,1096.3 1938.2,1092.1C1938.6,1087.9 1938.9,1084.9 1939.3,1081.2C1939.7,1077.6 1940.1,1074.0 1940.6,1070.4C1941.0,1066.8 1941.2,1062.2 1941.8,1059.5C1942.4,1056.9 1943.5,1054.5 1944.2,1054.7C1944.9,1054.8 1945.4,1058.7 1946.0,1060.4C1946.6,1062.2 1947.2,1064.8 1947.8,1065.0C1948.3,1065.1 1948.8,1063.8 1949.2,1061.3C1949.7,1058.9 1950.1,1054.7 1950.5,1050.5C1950.9,1046.3 1951.3,1040.1 1951.8,1036.0C1952.2,1032.0 1952.6,1029.0 1953.2,1026.1C1953.8,1023.2 1954.7,1020.5 1955.6,1018.9C1956.5,1017.2 1957.8,1015.6 1958.6,1016.2C1959.5,1016.8 1959.7,1020.4 1960.4,1022.5C1961.2,1024.5 1962.4,1028.4 1963.2,1028.4C1963.9,1028.4 1964.4,1023.8 1965.0,1022.5C1965.6,1021.2 1966.2,1019.6 1966.8,1020.7C1967.4,1021.7 1968.0,1025.3 1968.6,1028.8C1969.2,1032.3 1969.8,1036.9 1970.4,1041.5C1971.0,1046.0 1971.6,1050.5 1972.2,1055.9C1972.8,1061.3 1973.4,1067.4 1974.0,1074.0C1974.6,1080.6 1975.2,1088.5 1975.8,1095.7C1976.4,1102.9 1977.0,1110.2 1977.6,1117.4C1978.2,1124.6 1978.9,1130.9 1979.4,1139.1C1980.0,1147.2 1980.5,1158.4 1981.0,1166.3C1981.5,1174.1 1982.0,1178.6 1982.5,1186.2C1983.0,1193.7 1983.4,1203.0 1983.9,1211.5C1984.5,1219.9 1985.1,1228.3 1985.7,1236.8C1986.3,1245.2 1986.9,1253.9 1987.5,1262.1C1988.1,1270.2 1988.7,1277.7 1989.3,1285.6C1989.9,1293.4 1990.5,1302.2 1991.1,1309.1C1991.8,1316.0 1992.5,1321.7 1993.3,1327.2C1994.1,1332.6 1995.1,1337.1 1996.0,1341.6C1996.9,1346.1 1997.8,1349.8 1998.7,1354.3C1999.6,1358.8 2000.5,1364.5 2001.5,1368.7C2002.4,1373.0 2003.3,1376.3 2004.2,1379.6C2005.1,1382.9 2006.0,1385.5 2006.9,1388.6C2007.8,1391.8 2008.5,1395.9 2009.6,1398.6C2010.6,1401.3 2012.1,1402.3 2013.2,1404.9C2014.3,1407.5 2015.2,1411.7 2015.9,1413.9C2016.7,1416.2 2016.9,1417.3 2017.7,1418.5C2018.5,1419.6 2019.9,1419.4 2020.8,1420.6C2021.7,1421.8 2022.2,1424.3 2023.1,1425.7C2024.0,1427.0 2025.2,1428.5 2026.2,1428.8C2027.2,1429.1 2028.3,1429.5 2029.1,1427.5C2029.9,1425.5 2030.3,1420.4 2030.9,1416.6C2031.5,1412.9 2032.0,1407.3 2032.5,1404.9C2033.1,1402.5 2033.7,1402.0 2034.4,1402.2C2035.0,1402.3 2035.9,1405.9 2036.7,1405.8C2037.5,1405.6 2038.4,1404.4 2039.1,1401.3C2039.7,1398.1 2039.8,1393.1 2040.3,1386.8C2040.8,1380.5 2041.6,1373.3 2042.1,1363.3C2042.7,1353.4 2043.1,1338.6 2043.6,1327.2C2044.0,1315.7 2044.5,1306.1 2044.8,1294.6C2045.2,1283.2 2045.4,1270.5 2045.7,1258.5C2046.0,1246.4 2046.3,1234.4 2046.6,1222.3C2046.9,1210.3 2047.2,1198.2 2047.5,1186.2C2047.8,1174.1 2048.2,1157.8 2048.5,1150.0C2048.7,1142.2 2048.8,1145.1 2049.0,1139.1C2049.3,1133.0 2049.6,1120.7 2049.9,1113.8C2050.2,1106.8 2050.4,1100.7 2050.8,1097.5C2051.3,1094.3 2052.1,1093.3 2052.6,1094.8C2053.2,1096.3 2053.5,1101.0 2053.9,1106.5C2054.3,1112.1 2054.5,1116.5 2055.0,1128.2C2055.4,1140.0 2056.1,1162.9 2056.6,1177.1C2057.1,1191.3 2057.4,1201.2 2057.9,1213.3C2058.3,1225.3 2058.8,1237.4 2059.3,1249.4C2059.8,1261.5 2060.5,1274.1 2061.1,1285.6C2061.7,1297.0 2062.2,1307.9 2062.9,1318.1C2063.6,1328.4 2064.5,1338.9 2065.3,1347.0C2066.1,1355.2 2066.9,1361.2 2067.8,1366.9C2068.7,1372.7 2069.8,1376.9 2070.7,1381.4C2071.6,1385.9 2072.4,1388.9 2073.2,1394.0C2074.0,1399.2 2074.7,1407.6 2075.6,1412.1C2076.4,1416.6 2077.4,1418.0 2078.3,1421.2C2079.2,1424.3 2080.1,1428.4 2081.0,1431.1C2081.9,1433.8 2082.6,1435.8 2083.7,1437.4C2084.8,1439.1 2086.3,1440.7 2087.3,1441.0C2088.4,1441.4 2089.2,1441.0 2090.0,1439.2C2090.9,1437.4 2091.7,1435.0 2092.4,1430.2C2093.0,1425.4 2093.5,1417.8 2094.0,1410.3C2094.5,1402.8 2094.9,1393.7 2095.5,1385.0C2096.0,1376.3 2096.7,1366.0 2097.3,1357.9C2097.9,1349.8 2098.3,1340.3 2099.1,1336.2C2099.8,1332.1 2100.9,1334.8 2101.8,1333.5C2102.7,1332.1 2103.6,1328.8 2104.5,1328.1C2105.3,1327.3 2106.2,1326.7 2106.8,1329.0C2107.4,1331.2 2107.7,1336.8 2108.1,1341.6C2108.6,1346.4 2109.0,1351.9 2109.6,1357.9C2110.1,1363.9 2110.6,1371.5 2111.2,1377.8C2111.8,1384.1 2112.5,1391.2 2113.2,1395.9C2113.9,1400.5 2114.6,1403.5 2115.3,1405.8C2116.1,1408.1 2116.9,1409.3 2117.7,1409.4C2118.4,1409.6 2119.2,1409.3 2119.9,1406.7C2120.5,1404.1 2121.1,1397.2 2121.7,1394.0C2122.3,1390.9 2122.9,1387.9 2123.5,1387.7C2124.1,1387.6 2124.8,1390.4 2125.3,1393.1C2125.7,1395.9 2125.4,1402.1 2126.2,1404.0C2126.9,1405.9 2128.9,1403.8 2129.8,1404.5C2130.7,1405.3 2131.0,1406.8 2131.6,1408.5C2132.2,1410.2 2132.7,1414.8 2133.4,1414.8C2134.1,1414.8 2135.0,1410.2 2135.8,1408.5C2136.5,1406.8 2137.2,1404.5 2137.9,1404.5C2138.7,1404.5 2139.4,1406.0 2140.1,1408.5C2140.8,1411.0 2141.3,1415.5 2142.1,1419.4C2142.9,1423.2 2143.9,1428.6 2144.7,1431.8C2145.5,1435.0 2146.0,1436.4 2146.9,1438.4C2147.7,1440.4 2148.8,1441.6 2149.8,1443.5C2150.8,1445.5 2151.8,1448.3 2152.8,1450.1C2153.7,1452.0 2154.6,1453.3 2155.7,1454.5C2156.8,1455.8 2158.4,1457.2 2159.4,1457.5C2160.3,1457.7 2160.9,1457.6 2161.6,1456.0C2162.3,1454.4 2162.9,1450.6 2163.5,1447.9C2164.0,1445.2 2164.4,1441.2 2164.9,1439.9C2165.5,1438.5 2166.1,1438.8 2166.7,1439.9C2167.3,1441.0 2167.7,1444.6 2168.5,1446.5C2169.2,1448.3 2170.2,1450.3 2171.1,1450.9C2172.0,1451.5 2173.0,1451.1 2173.8,1450.1C2174.5,1449.2 2175.1,1446.0 2175.8,1445.0C2176.5,1444.0 2177.0,1443.5 2177.7,1444.3C2178.4,1445.0 2179.2,1447.3 2179.9,1449.4C2180.7,1451.5 2181.5,1454.5 2182.1,1456.7C2182.7,1458.9 2182.9,1461.6 2183.6,1462.6C2184.3,1463.7 2185.4,1463.7 2186.1,1463.1C2186.8,1462.4 2187.5,1461.2 2188.0,1458.9C2188.5,1456.7 2188.9,1453.4 2189.2,1449.4C2189.5,1445.4 2189.6,1439.6 2189.9,1434.7C2190.2,1429.8 2190.6,1423.5 2190.9,1420.0C2191.3,1416.6 2191.5,1415.1 2192.0,1414.2C2192.4,1413.2 2193.4,1412.7 2193.9,1414.2C2194.4,1415.6 2194.6,1419.8 2195.0,1423.0C2195.5,1426.2 2195.9,1429.6 2196.4,1433.3C2196.8,1436.9 2197.1,1442.4 2197.5,1445.0C2198.0,1447.6 2198.4,1448.2 2199.0,1448.7C2199.6,1449.2 2200.5,1449.3 2201.2,1447.9C2201.9,1446.6 2202.5,1444.3 2203.0,1440.6C2203.5,1436.9 2203.7,1430.6 2204.1,1425.9C2204.6,1421.3 2205.2,1416.9 2205.6,1412.7C2206.0,1408.5 2206.2,1403.6 2206.6,1401.0C2207.1,1398.3 2207.9,1396.3 2208.6,1396.5C2209.2,1396.8 2209.8,1399.2 2210.3,1402.4C2210.8,1405.6 2211.0,1411.2 2211.5,1415.6C2211.9,1420.0 2212.5,1424.4 2213.0,1428.8C2213.4,1433.3 2213.9,1437.9 2214.4,1442.1C2214.9,1446.2 2215.3,1450.8 2215.9,1453.8C2216.5,1456.9 2217.1,1458.7 2217.8,1460.4C2218.5,1462.1 2219.2,1463.3 2219.9,1464.1C2220.5,1464.9 2221.1,1465.4 2221.8,1465.3C2222.5,1465.1 2223.2,1464.5 2224.0,1463.4C2224.7,1462.2 2225.5,1460.3 2226.2,1458.2C2226.9,1456.1 2227.5,1453.4 2228.1,1450.9C2228.7,1448.3 2229.3,1445.1 2229.8,1442.8C2230.4,1440.5 2230.9,1438.4 2231.6,1436.9C2232.3,1435.5 2233.2,1434.2 2234.0,1434.0C2234.7,1433.7 2235.3,1434.4 2236.0,1435.5C2236.7,1436.6 2237.2,1439.5 2237.9,1440.6C2238.6,1441.6 2239.4,1441.8 2240.1,1441.8C2240.9,1441.8 2241.6,1441.8 2242.3,1440.6C2243.0,1439.4 2243.7,1437.9 2244.2,1434.7C2244.8,1431.5 2245.3,1426.2 2245.7,1421.5C2246.1,1416.9 2246.4,1410.7 2246.7,1406.8C2247.1,1402.9 2247.5,1399.7 2247.9,1398.0C2248.3,1396.3 2248.8,1395.7 2249.2,1396.5C2249.7,1397.4 2250.1,1400.5 2250.7,1403.2C2251.3,1405.8 2251.9,1409.6 2252.6,1412.7C2253.3,1415.8 2254.1,1418.8 2254.8,1421.5C2255.5,1424.2 2256.0,1425.9 2256.6,1428.8C2257.2,1431.8 2257.8,1435.7 2258.5,1439.1C2259.1,1442.6 2259.8,1446.6 2260.4,1449.4C2260.9,1452.2 2261.3,1454.2 2261.8,1456.0C2262.4,1457.8 2263.1,1459.2 2263.9,1460.4C2264.7,1461.6 2265.5,1462.5 2266.5,1463.1C2267.6,1463.6 2269.0,1463.7 2270.2,1463.6C2271.4,1463.6 2272.7,1463.5 2273.9,1462.9C2275.1,1462.3 2276.4,1460.9 2277.6,1460.1C2278.7,1459.3 2280.0,1459.5 2280.9,1458.2C2281.9,1456.9 2282.7,1455.0 2283.4,1452.3C2284.2,1449.6 2284.9,1446.0 2285.3,1442.1C2285.8,1438.1 2286.0,1433.0 2286.4,1428.8C2286.7,1424.7 2287.0,1420.0 2287.4,1417.1C2287.8,1414.2 2288.2,1411.7 2288.6,1411.2C2289.0,1410.7 2289.3,1412.0 2289.7,1414.2C2290.2,1416.4 2290.6,1421.0 2291.1,1424.4C2291.5,1427.9 2292.0,1432.7 2292.5,1434.7C2293.1,1436.8 2293.8,1436.5 2294.4,1436.6C2295.1,1436.8 2296.0,1436.2 2296.6,1435.5C2297.3,1434.7 2297.9,1432.9 2298.6,1432.1C2299.2,1431.2 2299.7,1430.2 2300.3,1430.3C2301.0,1430.4 2301.8,1431.6 2302.5,1432.5C2303.3,1433.4 2303.9,1435.1 2304.7,1435.8C2305.6,1436.4 2306.6,1436.3 2307.7,1436.2C2308.8,1436.1 2310.2,1435.8 2311.3,1435.0C2312.4,1434.3 2313.3,1433.2 2314.3,1431.8C2315.2,1430.4 2316.3,1428.6 2317.2,1426.6C2318.1,1424.7 2318.8,1423.3 2319.4,1420.0C2320.0,1416.7 2320.4,1411.5 2320.9,1406.8C2321.4,1402.2 2321.9,1397.0 2322.3,1392.1C2322.8,1387.2 2323.4,1382.4 2323.8,1377.5C2324.2,1372.6 2324.6,1368.9 2325.0,1362.8C2325.4,1356.7 2325.7,1348.1 2326.0,1340.8C2326.4,1333.4 2326.7,1325.3 2327.0,1318.7C2327.4,1312.1 2327.8,1304.7 2328.2,1301.1C2328.6,1297.5 2328.9,1297.0 2329.4,1297.0C2329.8,1297.0 2330.4,1297.5 2330.9,1301.1C2331.3,1304.7 2331.5,1311.9 2331.9,1318.7C2332.2,1325.6 2332.5,1334.4 2332.9,1342.2C2333.3,1350.1 2333.7,1358.6 2334.1,1365.7C2334.5,1372.8 2334.8,1379.2 2335.3,1384.8C2335.7,1390.4 2336.2,1394.8 2336.7,1399.5C2337.3,1404.1 2337.8,1409.0 2338.5,1412.7C2339.2,1416.4 2340.0,1418.8 2340.7,1421.5C2341.4,1424.2 2342.1,1426.8 2342.9,1428.8C2343.7,1430.9 2344.6,1432.9 2345.5,1434.0C2346.5,1435.1 2347.5,1435.1 2348.8,1435.5C2350.0,1435.8 2351.8,1436.1 2353.2,1436.2C2354.5,1436.3 2355.9,1436.4 2356.8,1435.9C2357.8,1435.4 2358.1,1435.4 2358.6,1433.3C2359.1,1431.1 2359.4,1426.9 2359.8,1423.0C2360.1,1419.1 2360.4,1413.7 2360.8,1409.8C2361.2,1405.8 2361.5,1401.6 2362.0,1399.5C2362.4,1397.4 2363.0,1396.5 2363.5,1397.3C2363.9,1398.0 2364.3,1400.8 2364.6,1403.9C2365.0,1406.9 2365.3,1412.7 2365.7,1415.6C2366.0,1418.5 2366.2,1420.4 2366.7,1421.2C2367.2,1422.1 2368.0,1421.9 2368.6,1420.8C2369.2,1419.6 2369.6,1417.2 2370.1,1414.2C2370.5,1411.1 2370.8,1406.6 2371.1,1402.4C2371.4,1398.3 2371.7,1393.9 2372.0,1389.2C2372.3,1384.6 2372.7,1379.2 2373.0,1374.5C2373.3,1369.9 2373.6,1364.4 2374.0,1361.3C2374.4,1358.3 2374.9,1357.5 2375.5,1356.2C2376.1,1354.8 2377.0,1355.6 2377.4,1353.2C2377.8,1350.9 2377.8,1345.8 2378.1,1342.2C2378.4,1338.7 2378.8,1333.5 2379.2,1331.9C2379.5,1330.4 2380.0,1330.7 2380.3,1332.7C2380.7,1334.6 2381.0,1339.2 2381.4,1343.7C2381.7,1348.2 2382.2,1354.5 2382.5,1359.8C2382.9,1365.2 2383.2,1370.6 2383.6,1376.0C2383.9,1381.4 2384.4,1387.5 2384.7,1392.1C2385.1,1396.8 2385.5,1400.8 2385.9,1403.9C2386.3,1406.9 2386.7,1409.0 2387.2,1410.5C2387.8,1412.0 2388.5,1413.0 2389.1,1413.0C2389.8,1413.0 2390.3,1410.8 2391.1,1410.5C2391.8,1410.2 2392.9,1409.3 2393.6,1410.9C2394.2,1412.5 2394.2,1417.3 2394.7,1420.0C2395.2,1422.8 2395.9,1425.1 2396.5,1427.4C2397.1,1429.7 2397.8,1432.0 2398.4,1434.0C2399.0,1435.9 2399.5,1437.9 2400.2,1439.1C2400.8,1440.4 2401.2,1441.0 2402.1,1441.3C2402.9,1441.7 2404.4,1440.7 2405.3,1441.3C2406.2,1441.9 2406.6,1443.8 2407.2,1445.0C2407.8,1446.2 2408.3,1447.8 2409.0,1448.7C2409.6,1449.6 2410.4,1450.4 2411.2,1450.4C2412.0,1450.5 2412.8,1449.9 2413.7,1449.1C2414.6,1448.3 2415.6,1446.9 2416.6,1445.7C2417.7,1444.6 2419.1,1443.0 2420.0,1442.1C2420.9,1441.2 2421.4,1439.8 2422.2,1440.3C2422.9,1440.8 2423.7,1443.5 2424.4,1445.0C2425.1,1446.5 2426.0,1448.4 2426.6,1449.4C2427.2,1450.4 2427.8,1450.6 2428.1,1450.9"/>
</g>
<g fill="#000" stroke="#000">
<line x1="1558.9" y1="285.2" x2="1591.7" y2="324.3" stroke-width="5.4" stroke-linecap="square"/>
<polygon stroke-width="0.6" stroke-linejoin="round" points="1577,321 1578,319.5 1589.3,311.8 1591.3,312.2 1604,336.2 1604,339 1602.6,340 1599,340 1578.6,324"/>
</g>
<text transform="translate(173.5,1626.5) scale(1.068,1)" font-size="64.5" text-anchor="middle" fill="#000">4000</text>
<text transform="translate(490.928,1626.5) scale(1.068,1)" font-size="64.5" text-anchor="middle" fill="#000">3500</text>
<text transform="translate(808.357,1626.5) scale(1.068,1)" font-size="64.5" text-anchor="middle" fill="#000">3000</text>
<text transform="translate(1125.79,1626.5) scale(1.068,1)" font-size="64.5" text-anchor="middle" fill="#000">2500</text>
<text transform="translate(1443.21,1626.5) scale(1.068,1)" font-size="64.5" text-anchor="middle" fill="#000">2000</text>
<text transform="translate(1760.64,1626.5) scale(1.068,1)" font-size="64.5" text-anchor="middle" fill="#000">1500</text>
<text transform="translate(2078.07,1626.5) scale(1.068,1)" font-size="64.5" text-anchor="middle" fill="#000">1000</text>
<text transform="translate(2395.5,1626.5) scale(1.068,1)" font-size="64.5" text-anchor="middle" fill="#000">500</text>
<text transform="translate(924.4,1754) scale(1.0765,1)" font-size="79" text-anchor="start" fill="#000">Wavenumber (cm<tspan font-size="55.1" dy="-32.1">-1</tspan><tspan dy="32.1">)</tspan></text>
<text transform="translate(68.2,980) rotate(-90) scale(1.085,1)" font-size="79.5" fill="#000" x="1.97 49.81 89.76 124.07 165.24 188.38 226.39 268.11 307.92 342.62" y="0">Absorbance</text>
<text class="b" transform="translate(1169.8,427.1) scale(1.047,1)" font-size="67.15" text-anchor="start" fill="#0000ff">CS-SDAEM</text>
<text class="b" transform="translate(1222.9,928.9) scale(1.0617,1)" font-size="66" text-anchor="start" fill="#000000">Chitosan</text>
<text class="b" transform="translate(1244,1425) scale(1.051,1)" font-size="67.15" text-anchor="start" fill="#ff0000">SDAEM</text>
</svg>
</body>
</html>
